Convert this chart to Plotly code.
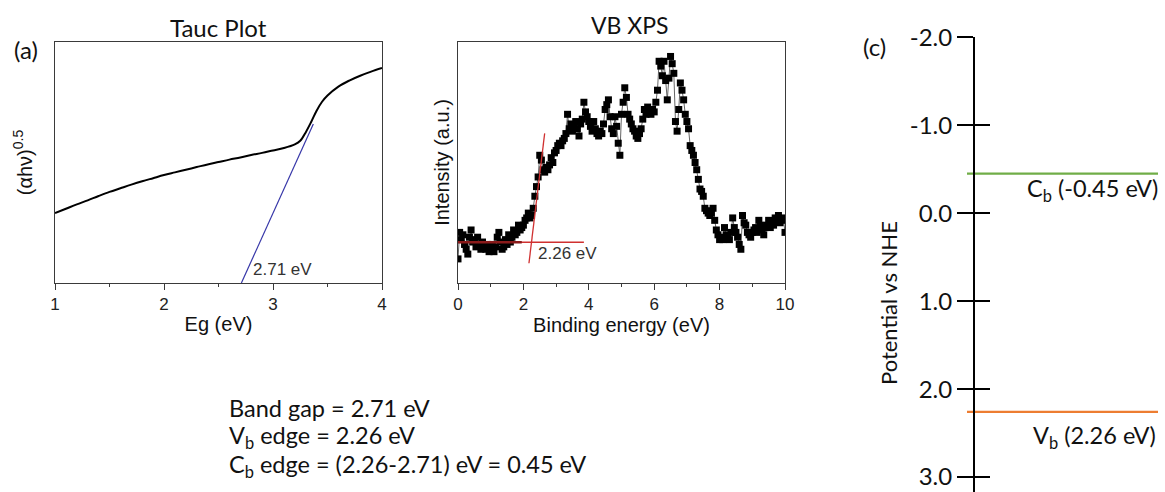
import plotly.graph_objects as go

W, H = 1165, 492

# ---------------- data ----------------
# Tauc plot curve (Eg in eV, (alpha h nu)^0.5 in arbitrary units 0-100)
tauc_eg = [1.0, 1.1, 1.2, 1.3, 1.4, 1.5, 1.6, 1.7, 1.8, 1.9, 2.0, 2.1, 2.2, 2.3, 2.4,
           2.5, 2.6, 2.7, 2.8, 2.9, 3.0, 3.1, 3.2, 3.25, 3.3, 3.35, 3.4, 3.45, 3.5,
           3.6, 3.7, 3.8, 3.9, 4.0]
tauc_val = [29.0, 30.8, 32.6, 34.3, 36.1, 37.8, 39.3, 40.8, 42.2, 43.5, 44.8, 45.9,
            47.0, 48.1, 49.2, 50.2, 51.2, 52.1, 53.1, 54.0, 55.0, 56.0, 57.5, 59.0,
            62.5, 66.8, 71.5, 75.2, 77.8, 81.5, 84.0, 86.0, 87.7, 89.2]
tauc_fit_x = [2.71, 3.37]
tauc_fit_y = [0.0, 66.0]
band_gap = 2.71

# VB XPS spectrum (binding energy 0-10 eV sampled every 0.05 eV, intensity a.u.)
xps_int = [10, 21, 18, 20, 16, 14, 12, 19, 22, 17, 18, 15, 19, 16, 14, 17, 15, 14, 16, 13,
           14, 16, 13, 15, 19, 21, 17, 14, 15, 18, 16, 20, 17, 19, 22, 20, 21, 24, 22, 23,
           24, 26, 27, 29, 27, 28, 31, 36, 40, 44, 53, 51, 47, 46, 48, 47, 49, 52, 50, 54,
           55, 57, 58, 57, 59, 60, 62, 70, 64, 66, 63, 65, 67, 64, 61, 66, 68, 75, 71, 69,
           67, 65, 63, 67, 64, 62, 61, 63, 62, 66, 72, 74, 76, 69, 64, 62, 69, 65, 58, 53,
           70, 75, 81, 77, 70, 68, 66, 64, 63, 61, 60, 62, 64, 68, 72, 70, 73, 71, 70, 72,
           71, 75, 80, 92, 90, 86, 92, 84, 76, 85, 94, 91, 87, 67, 63, 72, 83, 80, 76, 70,
           67, 64, 57, 55, 53, 50, 47, 43, 39, 38, 36, 31, 30, 29, 28, 29, 31, 26, 22, 20,
           18, 19, 18, 23, 20, 19, 18, 21, 27, 23, 21, 19, 16, 14, 28, 25, 24, 21, 20, 19,
           21, 22, 23, 21, 26, 24, 22, 20, 23, 24, 26, 23, 25, 24, 27, 26, 28, 25, 26, 27,
           21]
xps_be = [round(i * 0.05, 2) for i in range(len(xps_int))]
vb_base_x = [0.0, 3.85]
vb_base_y = [16.9, 16.9]
vb_base_dark_x = [0.0, 1.95]
vb_base_dark_y = [16.9, 16.9]
vb_edge_x = [2.17, 2.65]
vb_edge_y = [8.2, 62.1]
vb_edge = 2.26

# Band diagram (potential vs NHE)
cb_level = -0.45
vb_level = 2.26
pot_ticks = [-2.0, -1.0, 0.0, 1.0, 2.0, 3.0]
pot_ticktext = ["-2.0", "-1.0", "0.0", "1.0", "2.0", "3.0"]

# ---------------- helpers ----------------
def px(x):
    return x / W

def py(y):
    return 1 - y / H

ARIAL = "Liberation Sans, Arial, sans-serif"
CAL = "Lato, Carlito, Calibri, sans-serif"
FRAME = "#3a3a3a"

fig = go.Figure()

# Tauc
fig.add_trace(go.Scatter(x=tauc_eg, y=tauc_val, mode="lines", line=dict(color="black", width=2, shape="spline"),
                         xaxis="x", yaxis="y", showlegend=False))
fig.add_trace(go.Scatter(x=tauc_fit_x, y=tauc_fit_y, mode="lines", line=dict(color="#3636a8", width=1.2),
                         xaxis="x", yaxis="y", showlegend=False))

# XPS
fig.add_trace(go.Scatter(x=xps_be, y=xps_int, mode="lines+markers",
                         line=dict(color="#666666", width=1),
                         marker=dict(symbol="square", size=7, color="black"),
                         xaxis="x2", yaxis="y2", showlegend=False))
fig.add_trace(go.Scatter(x=vb_base_x, y=vb_base_y, mode="lines", line=dict(color="#d03030", width=1.3),
                         xaxis="x2", yaxis="y2", showlegend=False))
fig.add_trace(go.Scatter(x=vb_base_dark_x, y=vb_base_dark_y, mode="lines", line=dict(color="#8a1a1a", width=2.5),
                         xaxis="x2", yaxis="y2", showlegend=False))
fig.add_trace(go.Scatter(x=vb_edge_x, y=vb_edge_y, mode="lines", line=dict(color="#d03030", width=1.3),
                         xaxis="x2", yaxis="y2", showlegend=False))

# Band diagram levels
fig.add_trace(go.Scatter(x=[0, 1], y=[cb_level, cb_level], mode="lines", line=dict(color="#70ad47", width=2.2),
                         xaxis="x3", yaxis="y3", showlegend=False))
fig.add_trace(go.Scatter(x=[0, 1], y=[vb_level, vb_level], mode="lines", line=dict(color="#ed7d31", width=2.2),
                         xaxis="x3", yaxis="y4", showlegend=False))

ydom = [py(283), py(42)]
common_frame = dict(showline=True, linecolor=FRAME, linewidth=1, mirror=True, showgrid=False, zeroline=False,
                    automargin=False)

fig.update_layout(
    width=W, height=H, margin=dict(l=0, r=0, t=0, b=0, pad=0, autoexpand=False),
    paper_bgcolor="white", plot_bgcolor="white",
    xaxis=dict(domain=[px(55), px(382)], range=[1, 4], anchor="y", dtick=1, ticks="outside", ticklen=6,
               tickcolor=FRAME, tickfont=dict(family=ARIAL, size=17, color="#222"),
               minor=dict(dtick=0.5, ticks="outside", ticklen=3, tickcolor=FRAME),
               title=dict(text="Eg (eV)", font=dict(family=ARIAL, size=20, color="#111"), standoff=3),
               **common_frame),
    yaxis=dict(domain=ydom, range=[0, 100], anchor="x", showticklabels=False, ticks="",
               title=dict(text="(αhν)<sup>0.5</sup>", font=dict(family=ARIAL, size=20, color="#111"), standoff=16),
               **common_frame),
    xaxis2=dict(domain=[px(458), px(785)], range=[0, 10], anchor="y2", dtick=2, ticks="outside", ticklen=6,
                tickcolor=FRAME, tickfont=dict(family=ARIAL, size=17, color="#222"),
                minor=dict(dtick=1, ticks="outside", ticklen=3, tickcolor=FRAME),
                title=dict(text="Binding energy (eV)", font=dict(family=ARIAL, size=20, color="#111"), standoff=3),
                **common_frame),
    yaxis2=dict(domain=ydom, range=[0, 100], anchor="x2", showticklabels=False, ticks="",
                title=dict(text="Intensity (a.u.)", font=dict(family=ARIAL, size=20, color="#111"), standoff=2),
                **common_frame),
    xaxis3=dict(domain=[px(967), px(1158)], range=[0, 1], visible=False, anchor="free", position=0,
                automargin=False),
    yaxis3=dict(domain=[0, py(37.3)], range=[3.17, -2.0], anchor="free", position=px(974),
                tickvals=pot_ticks, ticktext=pot_ticktext, ticks="outside", ticklen=16, tickwidth=2,
                tickcolor="black", showline=True, linecolor="black", linewidth=2, showgrid=False,
                zeroline=False, automargin=False, tickfont=dict(family=CAL, size=24, color="#111")),
    yaxis4=dict(overlaying="y3", range=[3.17, -2.0], anchor="free", position=px(974),
                tickvals=pot_ticks, ticks="inside", ticklen=15, tickwidth=2, tickcolor="black",
                showticklabels=False, showline=False, showgrid=False, zeroline=False, automargin=False),
)

ann = []
def add_text(x, y, text, size, family=CAL, xanchor="center", yanchor="middle", angle=0, color="#111"):
    ann.append(dict(x=px(x), y=py(y), xref="paper", yref="paper", text=text, showarrow=False,
                    font=dict(family=family, size=size, color=color), xanchor=xanchor, yanchor=yanchor,
                    textangle=angle))

add_text(218, 27, "Tauc Plot", 24)
add_text(630, 25, "VB XPS", 23)
add_text(26, 50, "(a)", 24)
add_text(874, 46, "(c)", 24)
add_text(888, 303, "Potential vs NHE", 22, angle=-90)
add_text(1160, 190, "C<sub>b</sub> (-0.45 eV)", 23.5, xanchor="right")
add_text(1158, 437, "V<sub>b</sub> (2.26 eV)", 23.5, xanchor="right")
add_text(227, 408, f"Band gap = {band_gap:.2f} eV", 23.5, xanchor="left")
add_text(227, 437, f"V<sub>b</sub> edge = {vb_edge:.2f} eV", 23.5, xanchor="left")
add_text(227, 466, f"C<sub>b</sub> edge = ({vb_edge:.2f}-{band_gap:.2f}) eV = {abs(vb_edge - band_gap):.2f} eV",
         23.5, xanchor="left")

# data-anchored labels
ann.append(dict(x=2.8, y=5.5, xref="x", yref="y", text=f"{band_gap:.2f} eV", showarrow=False,
                font=dict(family=ARIAL, size=17, color="#333"), xanchor="left", yanchor="middle"))
ann.append(dict(x=2.4, y=12.3, xref="x2", yref="y2", text=f"{vb_edge:.2f} eV", showarrow=False,
                font=dict(family=ARIAL, size=17, color="#333"), xanchor="left", yanchor="middle"))

fig.update_layout(annotations=ann)
fig.write_html("out.html")
